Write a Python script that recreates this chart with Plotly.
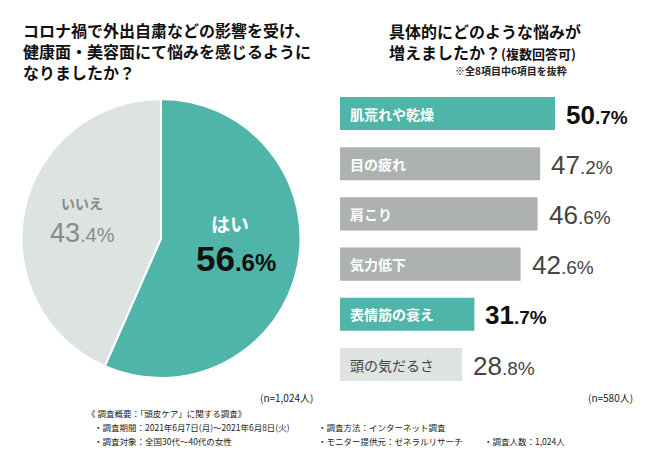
import plotly.graph_objects as go

# ---- data ----
pie_labels = ["はい", "いいえ"]
pie_values = [56.6, 43.4]

bar_labels = ["肌荒れや乾燥", "目の疲れ", "肩こり", "気力低下", "表情筋の衰え", "頭の気だるさ"]
bar_values = [50.7, 47.2, 46.6, 42.6, 31.7, 28.8]
bar_kind = ["hi", "mid", "mid", "mid", "hi", "lo"]

title_left = "コロナ禍で外出自粛などの影響を受け、<br>健康面・美容面にて悩みを感じるように<br>なりましたか？"
title_right = "具体的にどのような悩みが<br>増えましたか？<span style='font-size:13px'>(複数回答可)</span>"
note_right = "※全8項目中6項目を抜粋"
n_left = "(n=1,024人)"
n_right = "(n=580人)"
foot_head = "《 調査概要：「頭皮ケア」に関する調査》"
foot_items = [
    ("・調査期間：2021年6月7日(月)～2021年6月8日(火)", 92, 427),
    ("・調査方法：インターネット調査", 316, 427),
    ("・調査対象：全国30代～40代の女性", 92, 441),
    ("・モニター提供元：ゼネラルリサーチ", 316, 441),
    ("・調査人数：1,024人", 482, 441),
]

TEAL = "#4fb5a9"
GRAY = "#adb2b1"
LIGHT = "#dfe4e2"
PIE_LIGHT = "#dde3e1"
JP = "Noto Sans CJK JP"
NUM = "Liberation Sans"

# page body has an 8px margin; figure fills the rest of the 650x450 window
OFF = 8
W, H = 650 - OFF, 450 - OFF
def px(x): return (x - OFF) / W
def py(y): return 1 - (y - OFF) / H

fig = go.Figure()

fig.add_trace(go.Pie(
    labels=pie_labels, values=pie_values, sort=False, direction="clockwise",
    rotation=0, marker=dict(colors=[TEAL, PIE_LIGHT], line=dict(color="white", width=2)),
    textinfo="none", hoverinfo="skip", showlegend=False,
    domain=dict(x=[px(21), px(301)], y=[py(378), py(99)]),
))

color_map = {"hi": TEAL, "mid": GRAY, "lo": LIGHT}
ypos = list(range(len(bar_values)))
fig.add_trace(go.Bar(
    x=bar_values, y=ypos, orientation="h",
    marker=dict(color=[color_map[k] for k in bar_kind], line=dict(width=0)),
    width=0.66, hoverinfo="skip", showlegend=False,
    xaxis="x", yaxis="y",
))

xr = (650 - 340) / 4.24
fig.update_layout(
    width=W, height=H, margin=dict(l=0, r=0, t=0, b=0),
    paper_bgcolor="white", plot_bgcolor="white",
    xaxis=dict(domain=[px(340), 1], range=[0, xr], visible=False, fixedrange=True),
    yaxis=dict(domain=[py(389.6), py(88.4)], range=[5.5, -0.5], visible=False, fixedrange=True),
)

ann = []
for i, (lab, v, k) in enumerate(zip(bar_labels, bar_values, bar_kind)):
    if k == "lo":
        lab_txt = lab
        lab_font = dict(family=JP, size=14, color="#444444")
    else:
        lab_txt = "<b>" + lab + "</b>"
        lab_font = dict(family=JP, size=14, color="white")
    ann.append(dict(x=0, y=i, xref="x", yref="y", xanchor="left", yanchor="middle",
                    xshift=8, text=lab_txt, font=lab_font, showarrow=False))
    whole, dec = f"{v:.1f}".split(".")
    if k == "hi":
        t = f"<b><span style='font-size:26px'>{whole}</span><span style='font-size:19px'>.{dec}%</span></b>"
        col = "#111111"
    else:
        t = f"<span style='font-size:26px'>{whole}</span><span style='font-size:19px'>.{dec}%</span>"
        col = "#444444"
    ann.append(dict(x=v, y=i, xref="x", yref="y", xanchor="left", yanchor="middle",
                    xshift=9, yshift=-1, text=t, font=dict(family=NUM, size=26, color=col),
                    showarrow=False))

ann.append(dict(x=px(230), y=py(223), xref="paper", yref="paper", xanchor="center", yanchor="middle",
                text="<b>" + pie_labels[0] + "</b>", font=dict(family=JP, size=19, color="white"), showarrow=False))
ann.append(dict(x=px(236), y=py(258), xref="paper", yref="paper", xanchor="center", yanchor="middle",
                text="<b><span style='font-size:35px'>56</span><span style='font-size:24px'>.6%</span></b>",
                font=dict(family=NUM, size=35, color="#111111"), showarrow=False))
ann.append(dict(x=px(82), y=py(203), xref="paper", yref="paper", xanchor="center", yanchor="middle",
                text="<b>" + pie_labels[1] + "</b>", font=dict(family=JP, size=14, color="#8a8a8a"), showarrow=False))
ann.append(dict(x=px(82), y=py(233), xref="paper", yref="paper", xanchor="center", yanchor="middle",
                text="<span style='font-size:27px'>43</span><span style='font-size:20px'>.4%</span>",
                font=dict(family=NUM, size=27, color="#8a8a8a"), showarrow=False))

ann.append(dict(x=px(21), y=py(16), xref="paper", yref="paper", xanchor="left", yanchor="top", align="left",
                text="<b>" + title_left + "</b>", font=dict(family=JP, size=16, color="#111111"), showarrow=False))
ann.append(dict(x=px(387), y=py(17), xref="paper", yref="paper", xanchor="left", yanchor="top", align="left",
                text="<b>" + title_right + "</b>", font=dict(family=JP, size=16, color="#111111"), showarrow=False))
ann.append(dict(x=px(453), y=py(71), xref="paper", yref="paper", xanchor="left", yanchor="middle", align="left",
                text="<b>" + note_right + "</b>", font=dict(family=JP, size=10, color="#222222"), showarrow=False))

ann.append(dict(x=px(258), y=py(397), xref="paper", yref="paper", xanchor="left", yanchor="middle",
                text=n_left, font=dict(family=JP, size=10, color="#222222"), showarrow=False))
ann.append(dict(x=px(635), y=py(397), xref="paper", yref="paper", xanchor="right", yanchor="middle",
                text=n_right, font=dict(family=JP, size=10, color="#222222"), showarrow=False))

ann.append(dict(x=px(85), y=py(413), xref="paper", yref="paper", xanchor="left", yanchor="middle",
                text=foot_head, font=dict(family=JP, size=8.5, color="#222222"), showarrow=False))
for t, x, y in foot_items:
    ann.append(dict(x=px(x), y=py(y), xref="paper", yref="paper", xanchor="left", yanchor="middle",
                    text=t, font=dict(family=JP, size=8.5, color="#222222"), showarrow=False))

fig.update_layout(annotations=ann)
fig.write_html("out.html")
